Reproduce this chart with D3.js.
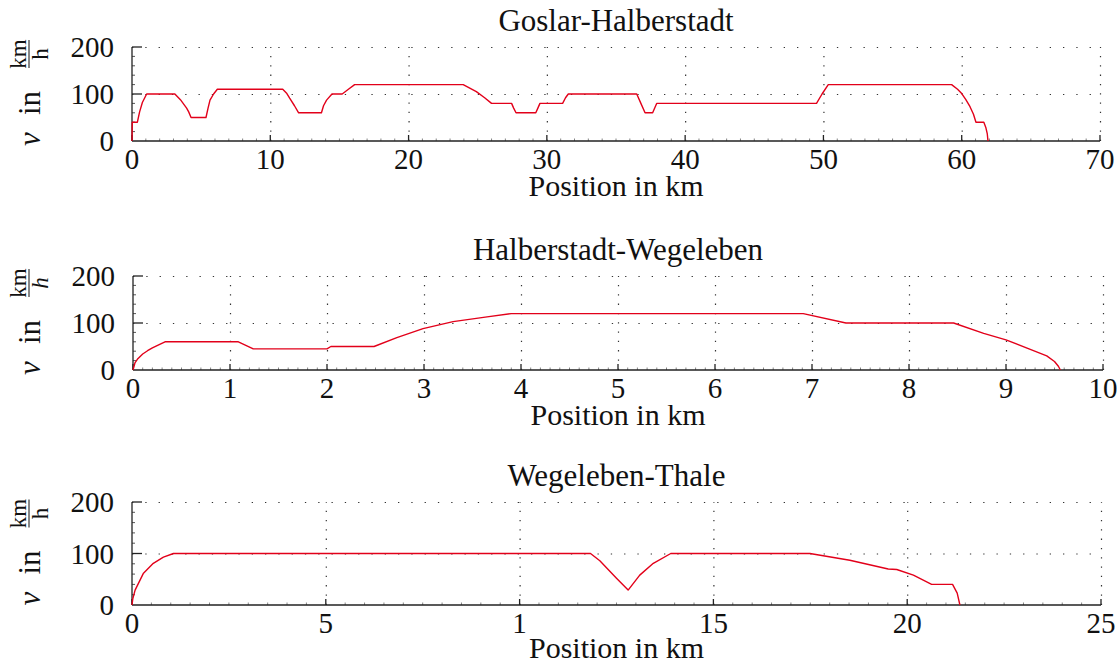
<!DOCTYPE html>
<html>
<head>
<meta charset="utf-8">
<script src="https://cdn.jsdelivr.net/npm/d3@7"></script>
<style>
  body { margin: 0; background: #fff; }
  svg { display: block; font-family: "Liberation Serif", "DejaVu Serif", serif; }
  .grid line { stroke: #333; stroke-width: 1.2; }
  .grid path { display: none; }
</style>
</head>
<body>
<svg id="canvas" width="1117" height="666"></svg>
<script>
// Goslar-Halberstadt: position (km), speed (km/h)
let ghPos = [0, 0.02, 0.39, 0.55, 0.75, 1.06, 3.1, 3.5, 3.95, 4.1, 4.27, 5.35, 5.5, 5.64, 5.9, 6.17,
	10.9, 11.2, 11.4, 11.75, 12.05, 13.7, 13.85, 14.07, 14.46, 15.2, 15.65, 16.1, 23.95, 24.9, 25.5, 26.0,
	27.45, 27.6, 27.77, 29.2, 29.35, 29.5, 31.14, 31.35, 31.55, 36.5, 36.8, 37.1, 37.65, 37.94, 49.5, 49.9,
	50.35, 59.27, 59.7, 60.0, 60.3, 60.6, 60.85, 61.03, 61.6, 61.75, 61.85, 61.9];
let ghSpeed = [0, 40, 40, 62, 82, 100, 100, 88, 70, 62, 50, 50, 70, 87, 100, 110,
	110, 101, 91, 75, 60, 60, 75, 87, 100, 100, 110, 120, 120, 105, 92, 80,
	80, 70, 60, 60, 70, 80, 80, 92, 100, 100, 80, 60, 60, 80, 80, 100,
	120, 120, 110, 101, 88, 73, 57, 40, 40, 28, 15, 0];

// Halberstadt-Wegeleben
let hwPos = [0, 0.02, 0.05, 0.1, 0.15, 0.2, 0.27, 0.33, 1.086, 1.24, 2.0, 2.04, 2.485, 2.72, 2.99, 3.3,
	3.65, 3.9, 6.91, 7.35, 8.46, 8.77, 9.0, 9.25, 9.42, 9.5, 9.54, 9.56];
let hwSpeed = [0, 15, 24, 34, 41, 47, 54, 60, 60, 45, 45, 50, 50, 69, 88, 103,
	113, 120, 120, 100, 100, 78, 64, 44, 30, 18, 8, 0];

// Wegeleben-Thale
let wtPos = [0, 0.02, 0.08, 0.29, 0.55, 0.81, 1.07, 11.83, 12.07, 12.5, 12.8, 13.1, 13.45, 13.9, 17.49,
	18.52, 19.51, 19.73, 20.16, 20.63, 21.17, 21.29, 21.36];
let wtSpeed = [0, 12, 29, 61, 81, 93, 100, 100, 86, 52, 29, 58, 81, 100, 100,
	87, 70, 69, 58, 40, 40, 23, 0];

let titles = ['Goslar-Halberstadt', 'Halberstadt-Wegeleben', 'Wegeleben-Thale'];
let ghTicks = [0, 10, 20, 30, 40, 50, 60, 70];
let ghTickLabels = ['0', '10', '20', '30', '40', '50', '60', '70'];
let hwTicks = [0, 1, 2, 3, 4, 5, 6, 7, 8, 9, 10];
let hwTickLabels = ['0', '1', '2', '3', '4', '5', '6', '7', '8', '9', '10'];
let wtTicks = [0, 5, 10, 15, 20, 25];
let wtTickLabels = ['0', '5', '1', '15', '20', '25'];
let speedTicks = [0, 100, 200];
let speedTickLabels = ['0', '100', '200'];

let canvas = d3.select('#canvas');

let panels = [
	{ title: titles[0], pos: ghPos, speed: ghSpeed, xMax: 70, ticks: ghTicks, labels: ghTickLabels,
		minor: 1, left: 132, right: 1100, top: 47, bottom: 141, hItalic: false },
	{ title: titles[1], pos: hwPos, speed: hwSpeed, xMax: 10, ticks: hwTicks, labels: hwTickLabels,
		minor: 0.1, left: 133, right: 1103, top: 276, bottom: 370, hItalic: true },
	{ title: titles[2], pos: wtPos, speed: wtSpeed, xMax: 25, ticks: wtTicks, labels: wtTickLabels,
		minor: 0.5, left: 132, right: 1101, top: 502, bottom: 605, hItalic: false }
];

let drawPanel = (p) => {
	let x = d3.scaleLinear().domain([0, p.xMax]).range([p.left, p.right]);
	let y = d3.scaleLinear().domain([0, 200]).range([p.bottom, p.top]);
	let g = canvas.append('g');

	// dotted grid
	g.append('g')
		.attr('class', 'grid')
		.attr('transform', 'translate(0,' + p.bottom + ')')
		.call(d3.axisBottom(x).tickValues(p.ticks.slice(1)).tickSize(-(p.bottom - p.top)).tickFormat(''))
		.selectAll('line')
		.attr('stroke-dasharray', '1.3,8');
	g.append('g')
		.attr('class', 'grid')
		.attr('transform', 'translate(' + p.left + ',0)')
		.call(d3.axisLeft(y).tickValues([100, 200]).tickSize(-(p.right - p.left)).tickFormat(''))
		.selectAll('line')
		.attr('stroke-dasharray', '1.3,12');

	// minor ticks
	let minorX = d3.range(0, p.xMax + 1e-9, p.minor).filter((v) => !p.ticks.some((t) => Math.abs(t - v) < 1e-6));
	g.selectAll('.mx').data(minorX).enter().append('line')
		.attr('x1', (d) => x(d)).attr('x2', (d) => x(d))
		.attr('y1', p.bottom).attr('y2', p.bottom - 2.5)
		.attr('stroke', '#666').attr('stroke-width', 0.8);
	let minorY = d3.range(20, 200, 20).filter((v) => v !== 100);
	g.selectAll('.my').data(minorY).enter().append('line')
		.attr('x1', p.left).attr('x2', p.left + 3)
		.attr('y1', (d) => y(d)).attr('y2', (d) => y(d))
		.attr('stroke', '#444').attr('stroke-width', 0.9);

	// major ticks
	g.selectAll('.tx').data(p.ticks).enter().append('line')
		.attr('x1', (d) => x(d)).attr('x2', (d) => x(d))
		.attr('y1', p.bottom).attr('y2', p.bottom - 6)
		.attr('stroke', '#222').attr('stroke-width', 1.3);
	g.selectAll('.ty').data([100, 200]).enter().append('line')
		.attr('x1', p.left).attr('x2', p.left + 10)
		.attr('y1', (d) => y(d)).attr('y2', (d) => y(d))
		.attr('stroke', '#222').attr('stroke-width', 1.3);

	// axis lines
	g.append('line').attr('x1', p.left).attr('x2', p.right).attr('y1', p.bottom).attr('y2', p.bottom)
		.attr('stroke', '#222').attr('stroke-width', 1.3);
	g.append('line').attr('x1', p.left).attr('x2', p.left).attr('y1', p.bottom).attr('y2', p.top)
		.attr('stroke', '#222').attr('stroke-width', 1.3);

	// tick labels
	g.selectAll('.lx').data(p.ticks).enter().append('text')
		.attr('x', (d) => x(d)).attr('y', p.bottom + 28)
		.attr('text-anchor', 'middle').attr('font-size', 29).attr('fill', '#111')
		.text((d, i) => p.labels[i]);
	g.selectAll('.ly').data(speedTicks).enter().append('text')
		.attr('x', p.left - 18).attr('y', (d) => y(d) + 10)
		.attr('text-anchor', 'end').attr('font-size', 29).attr('fill', '#111')
		.text((d, i) => speedTickLabels[i]);

	// line
	let line = d3.line().x((d, i) => x(p.pos[i])).y((d) => y(d));
	g.append('path').attr('d', line(p.speed))
		.attr('fill', 'none').attr('stroke', '#e2001a').attr('stroke-width', 1.4)
		.attr('stroke-linejoin', 'round');

	// title and x label
	let cx = (p.left + p.right) / 2;
	g.append('text').attr('x', cx).attr('y', p.top - 16)
		.attr('text-anchor', 'middle').attr('font-size', 31).attr('fill', '#111').text(p.title);
	g.append('text').attr('x', cx).attr('y', Math.min(p.bottom + 55, 658))
		.attr('text-anchor', 'middle').attr('font-size', 30).attr('fill', '#111').text('Position in km');

	// y label: v in km/h, rotated
	let cy = (p.top + p.bottom) / 2;
	let yl = g.append('g').attr('transform', 'translate(40,' + cy + ') rotate(-90)');
	yl.append('text').attr('x', -45).attr('y', 0).attr('text-anchor', 'middle')
		.attr('font-size', 31).attr('font-style', 'italic').attr('fill', '#111').text('v');
	yl.append('text').attr('x', -9).attr('y', 0).attr('text-anchor', 'middle')
		.attr('font-size', 31).attr('fill', '#111').text('in');
	yl.append('text').attr('x', 40).attr('y', -14).attr('text-anchor', 'middle')
		.attr('font-size', 23).attr('fill', '#111').text('km');
	yl.append('line').attr('x1', 26).attr('x2', 54).attr('y1', -11).attr('y2', -11)
		.attr('stroke', '#111').attr('stroke-width', 1);
	yl.append('text').attr('x', 40).attr('y', 8).attr('text-anchor', 'middle')
		.attr('font-size', 23).attr('font-style', p.hItalic ? 'italic' : 'normal').attr('fill', '#111').text('h');
};

panels.forEach(drawPanel);
</script>
</body>
</html>
